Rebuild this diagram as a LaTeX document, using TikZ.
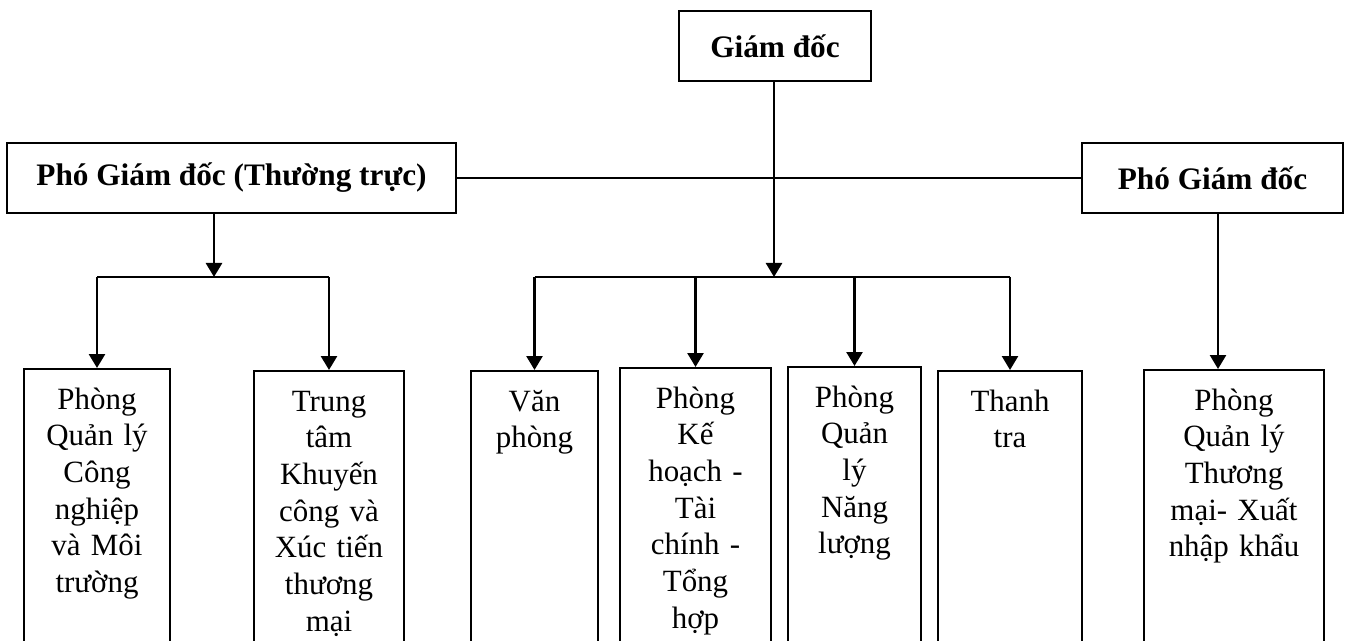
\documentclass[tikz,border=0pt]{standalone}
\usepackage{fontspec}
\setmainfont{Liberation Serif}
\usetikzlibrary{arrows.meta}

\begin{document}
\begin{tikzpicture}[x=0.02cm, y=-0.02cm,
		headbox/.style={draw, line width=1.2pt, inner sep=0pt, minimum height=1.4cm, minimum width=#1, font=\fontsize{17.8}{21}\selectfont\bfseries},
		unitbox/.style={draw, line width=1.2pt, anchor=north, align=center, text width=#1, inner xsep=0pt, inner ysep=0.35cm, text height=0.45cm, text depth=8cm, font=\fontsize{17.6}{20.9}\selectfont},
		link/.style={line width=0.9pt},
		arrowlink/.style={line width=1.5pt, -{Triangle[length=0.28cm, width=0.32cm]}}]
	\useasboundingbox (0,0) rectangle (1348,641);
	\clip (0,0) rectangle (1348,641);

	\draw (775, 46) 	node[headbox=3.84cm] 	(gd) 		{Giám đốc};
	\draw (231.5, 178) 	node[headbox=8.98cm] 	(pgdtt) 	{Phó Giám đốc (Thường trực)};
	\draw (1212.5, 178) 	node[headbox=5.22cm] 	(pgd) 		{Phó Giám đốc};

	\draw (97, 368) 	node[unitbox=2.92cm] 	(pcn) 		{Phòng\\Quản lý\\Công\\nghiệp\\và Môi\\trường};
	\draw (329, 370) 	node[unitbox=3.0cm] 	(ttkc) 		{Trung\\tâm\\Khuyến\\công và\\Xúc tiến\\thương\\mại};
	\draw (534.5, 370) 	node[unitbox=2.54cm] 	(van) 		{Văn\\phòng};
	\draw (695.5, 367) 	node[unitbox=3.02cm] 	(kh) 		{Phòng\\Kế\\hoạch -\\Tài\\chính -\\Tổng\\hợp};
	\draw (854.5, 366) 	node[unitbox=2.66cm] 	(nl) 		{Phòng\\Quản\\lý\\Năng\\lượng};
	\draw (1010, 370) 	node[unitbox=2.88cm] 	(tt) 		{Thanh\\tra};
	\draw (1234, 369) 	node[unitbox=3.6cm] 	(tm) 		{Phòng\\Quản lý\\Thương\\mại- Xuất\\nhập khẩu};

	\coordinate (lbar) at (214, 277);
	\coordinate (mbar) at (774, 277);
	\coordinate (rcol) at (1218, 0);

	\draw[link] (pgdtt.east) -- (pgd.west);
	\draw[arrowlink] (pgdtt.south -| lbar) -- (lbar);
	\draw[arrowlink] (gd.south -| mbar) -- (mbar);
	\draw[arrowlink] (pgd.south -| rcol) -- (tm.north -| rcol);

	\draw[line width=1.5pt] (pcn.north |- lbar) -- (ttkc.north |- lbar);
	\draw[line width=1.5pt] (van.north |- mbar) -- (tt.north |- mbar);
	\foreach \u in {pcn, ttkc}
		\draw[arrowlink] (\u.north |- lbar) -- (\u.north);
	\foreach \u in {van, kh, nl, tt}
		\draw[arrowlink] (\u.north |- mbar) -- (\u.north);
\end{tikzpicture}
\end{document}
